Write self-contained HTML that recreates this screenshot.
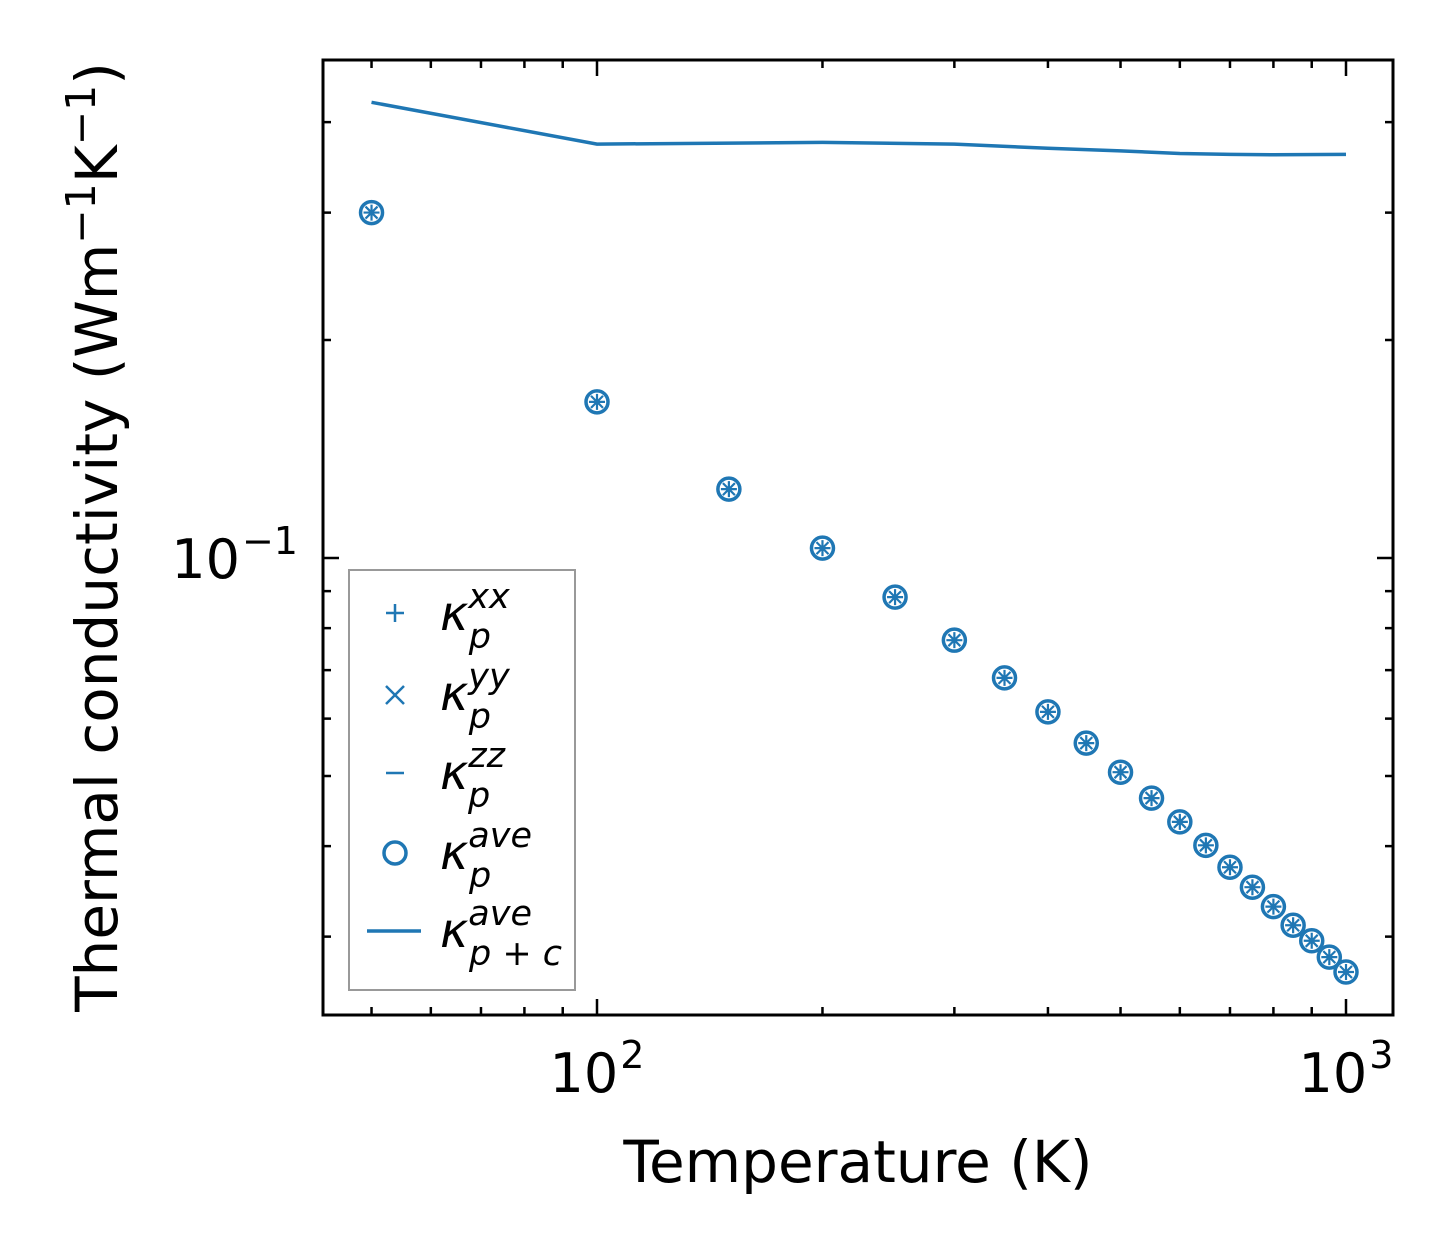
<!DOCTYPE html>
<html><head><meta charset="utf-8"><style>
html,body{margin:0;padding:0;background:#fff;}
svg{display:block;font-family:"DejaVu Sans","Liberation Sans",sans-serif;}
</style></head><body>
<svg id="chart" width="1454" height="1254" viewBox="0 0 1454 1254" xmlns="http://www.w3.org/2000/svg">
<g id="marks"></g>
<g id="axes"></g>
<g id="legend">
  <rect x="349" y="570" width="226" height="420" fill="#fff" stroke="#999" stroke-width="2"/>
  <g>
    <path d="M386 613h18M395 604v18" stroke="#1f77b4" stroke-width="2.5"/>
    <text x="440" y="630" font-size="48" font-style="italic">κ<tspan font-size="35" dy="-22">xx</tspan><tspan font-size="35" dx="-41" dy="40">p</tspan></text>
  </g>
  <g>
    <path d="M386 686l18 18M404 686l-18 18" stroke="#1f77b4" stroke-width="2.5"/>
    <text x="440" y="710" font-size="48" font-style="italic">κ<tspan font-size="35" dy="-22">yy</tspan><tspan font-size="35" dx="-41" dy="40">p</tspan></text>
  </g>
  <g>
    <path d="M386 773h18" stroke="#1f77b4" stroke-width="2.5"/>
    <text x="440" y="789" font-size="48" font-style="italic">κ<tspan font-size="35" dy="-22">zz</tspan><tspan font-size="35" dx="-37" dy="40">p</tspan></text>
  </g>
  <g>
    <circle cx="395" cy="853" r="11" fill="none" stroke="#1f77b4" stroke-width="3.5"/>
    <text x="440" y="869" font-size="48" font-style="italic">κ<tspan font-size="35" dy="-22">ave</tspan><tspan font-size="35" dx="-63" dy="40">p</tspan></text>
  </g>
  <g>
    <path d="M367 931h54" stroke="#1f77b4" stroke-width="3.5"/>
    <text x="440" y="947" font-size="48" font-style="italic">κ<tspan font-size="35" dy="-22">ave</tspan><tspan font-size="35" dx="-63" dy="40">p + c</tspan></text>
  </g>
</g>
<text x="858" y="1182" font-size="58" text-anchor="middle">Temperature (K)</text>
<text transform="translate(117,537) rotate(-90)" font-size="58" text-anchor="middle">Thermal conductivity (Wm<tspan font-size="41" dy="-22">−1</tspan><tspan dy="22">K</tspan><tspan font-size="41" dy="-22">−1</tspan><tspan dy="22">)</tspan></text>
<script>
const temps = [50,100,150,200,250,300,350,400,450,500,550,600,650,700,750,800,850,900,950,1000];
const kappaP = [0.300,0.1643,0.1245,0.1032,0.0883,0.0770,0.0683,0.0613,0.0555,0.0506,0.0466,0.0432,0.0401,0.0374,0.0351,0.0330,0.0311,0.0296,0.0281,0.0268];
const lineTemps = [50,100,200,300,400,500,600,700,800,1000];
const kappaPC = [0.426,0.373,0.375,0.373,0.368,0.365,0.362,0.361,0.3605,0.361];
const xMajorTicks = [100,1000];
const xMajorLabels = ["2","3"];
const xMinorTicks = [50,60,70,80,90,200,300,400,500,600,700,800,900];
const yMajorTicks = [0.1];
const yMajorLabels = ["−1"];
const yMinorTicks = [0.03,0.04,0.05,0.06,0.07,0.08,0.09,0.2,0.3,0.4];

const L=323,R=1393,T=60,B=1015;
const X = v => 597 + (Math.log10(v)-2)*749;
const Y = v => 558 - (Math.log10(v)+1)*724;
const NS="http://www.w3.org/2000/svg";
function mk(tag,attrs,parent){const e=document.createElementNS(NS,tag);for(const k in attrs)e.setAttribute(k,attrs[k]);parent.appendChild(e);return e;}
const marks=document.getElementById('marks'), axes=document.getElementById('axes');
const c="#1f77b4";
let d=lineTemps.map((t,i)=>(i?'L':'M')+X(t).toFixed(1)+' '+Y(kappaPC[i]).toFixed(1)).join('');
const ln=mk('path',{d:d,fill:'none',stroke:c,'stroke-width':3.5},marks);


temps.forEach((t,i)=>{
  const x=X(t),y=Y(kappaP[i]);
  const g=mk('g',{},marks);
  
  
  mk('circle',{cx:x,cy:y,r:11,fill:'none',stroke:c,'stroke-width':3.5},g);
  mk('path',{d:`M${x-8} ${y}h16M${x} ${y-8}v16M${x-6} ${y-6}l12 12M${x+6} ${y-6}l-12 12`,stroke:c,'stroke-width':2.2},g);
});
const fr=mk('rect',{x:L,y:T,width:R-L,height:B-T,fill:'none',stroke:'#000','stroke-width':3},axes);


function xt(v,len){const x=X(v);mk('path',{d:`M${x} ${B}v${-len}M${x} ${T}v${len}`,stroke:'#000','stroke-width':2.5},axes);}
function yt(v,len){const y=Y(v);mk('path',{d:`M${L} ${y}h${len}M${R} ${y}h${-len}`,stroke:'#000','stroke-width':2.5},axes);}
xMinorTicks.forEach(v=>xt(v,8));
yMinorTicks.forEach(v=>yt(v,8));
xMajorTicks.forEach((v,i)=>{xt(v,16);
  const t=mk('text',{x:X(v),y:1092,'font-size':54,'text-anchor':'middle'},axes);
  
  
  t.textContent='10';
  const s=mk('tspan',{'font-size':38,dy:-24,dx:2},t); s.textContent=xMajorLabels[i];
});
yMajorTicks.forEach((v,i)=>{yt(v,16);
  const t=mk('text',{x:298,y:Y(v)+20,'font-size':54,'text-anchor':'end'},axes);
  
  
  t.textContent='10';
  const s=mk('tspan',{'font-size':38,dy:-24,dx:2},t); s.textContent=yMajorLabels[i];
});
</script>
</svg>
</body></html>
